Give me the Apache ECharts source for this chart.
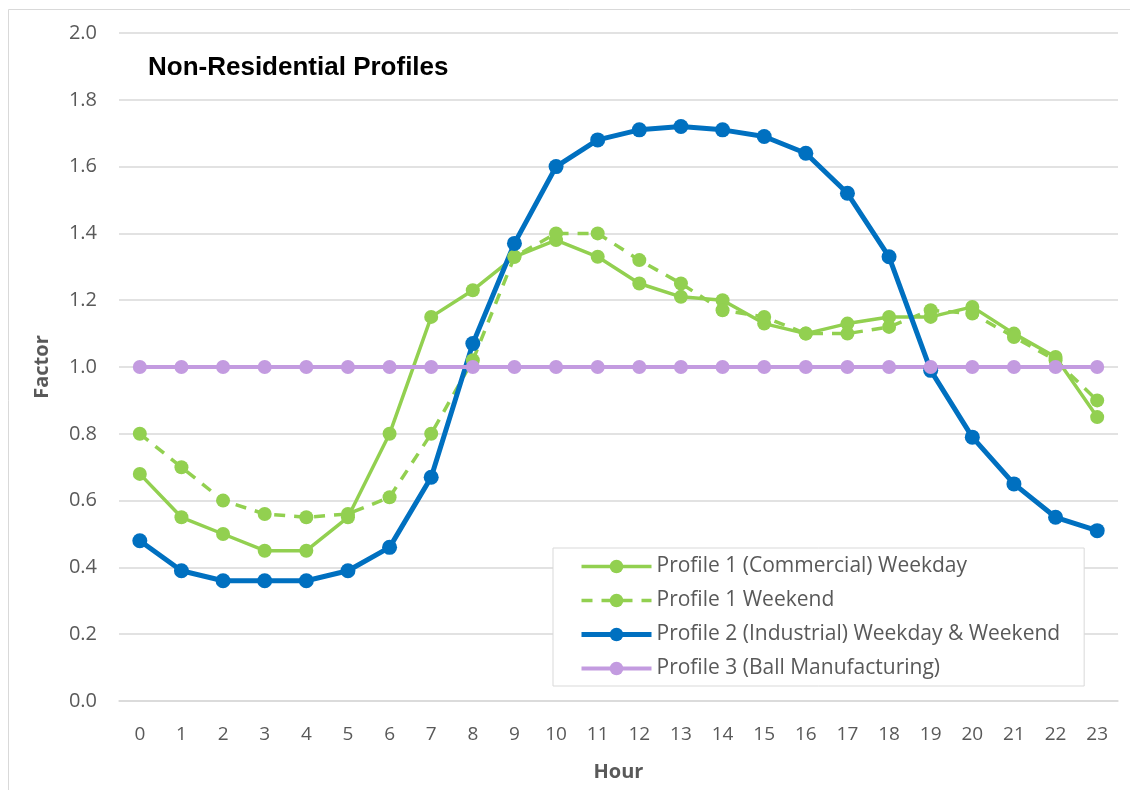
<!DOCTYPE html>
<html>
<head>
<meta charset="utf-8">
<script src="https://cdn.jsdelivr.net/npm/echarts@6/dist/echarts.min.js"></script>
<style>
  html, body { margin: 0; padding: 0; background: #fff; overflow: hidden; }
  #main { width: 1130px; height: 790px; }
</style>
</head>
<body>
<div id="main"></div>
<script>
// hours 0..23
const hours = ["0","1","2","3","4","5","6","7","8","9","10","11","12","13","14","15","16","17","18","19","20","21","22","23"];

const commercialWeekday = [0.68, 0.55, 0.50, 0.45, 0.45, 0.55, 0.80, 1.15, 1.23, 1.33, 1.38, 1.33,
                           1.25, 1.21, 1.20, 1.13, 1.10, 1.13, 1.15, 1.15, 1.18, 1.10, 1.03, 0.85];
const commercialWeekend = [0.80, 0.70, 0.60, 0.56, 0.55, 0.56, 0.61, 0.80, 1.02, 1.33, 1.40, 1.40,
                           1.32, 1.25, 1.17, 1.15, 1.10, 1.10, 1.12, 1.17, 1.16, 1.09, 1.02, 0.90];
const industrial = [0.48, 0.39, 0.36, 0.36, 0.36, 0.39, 0.46, 0.67, 1.07, 1.37, 1.60, 1.68,
                    1.71, 1.72, 1.71, 1.69, 1.64, 1.52, 1.33, 0.99, 0.79, 0.65, 0.55, 0.51];
const ballManufacturing = [1, 1, 1, 1, 1, 1, 1, 1, 1, 1, 1, 1, 1, 1, 1, 1, 1, 1, 1, 1, 1, 1, 1, 1];

const seriesNames = [
    "Profile 1 (Commercial) Weekday",
    "Profile 1 Weekend",
    "Profile 2 (Industrial) Weekday & Weekend",
    "Profile 3 (Ball Manufacturing)",
];

const green = "#92D050";
const blue = "#0070C0";
const purple = "#C39BE0";
const labelFont = "'Open Sans', 'Noto Sans', sans-serif";

var myChart = echarts.init(document.getElementById("main"));

function lineSeries(name, data, color, width, symbolSize, dashed) {
    return {
        name: name,
        type: "line",
        data: data,
        symbol: "circle",
        symbolSize: symbolSize,
        showSymbol: true,
        animation: false,
        itemStyle: { color: color },
        lineStyle: {
            color: color,
            width: width,
            type: dashed ? [11, 9] : "solid",
        },
    };
}

let option = {
    backgroundColor: "#fff",
    title: {
        text: "Non-Residential Profiles",
        left: 143,
        top: 50,
        textStyle: {
            fontFamily: "'Liberation Sans', Arial, sans-serif",
            fontWeight: "bold",
            fontSize: 26,
            color: "#000",
        },
    },
    graphic: [
        {
            type: "rect",
            shape: { x: 8.5, y: 9.5, width: 1140, height: 800 },
            style: { fill: "none", stroke: "#D9D9D9", lineWidth: 1 },
            silent: true,
        },
    ],
    legend: {
        orient: "vertical",
        left: 553,
        top: 548,
        padding: [8, 24, 7, 26],
        itemGap: 13,
        itemWidth: 70,
        itemHeight: 17,
        borderColor: "#D9D9D9",
        borderWidth: 1,
        backgroundColor: "#fff",
        data: [
            { name: seriesNames[0], lineStyle: { width: 3.5 } },
            { name: seriesNames[1], lineStyle: { width: 3.5, type: [11, 9] } },
            { name: seriesNames[2], lineStyle: { width: 5 } },
            { name: seriesNames[3], lineStyle: { width: 4 } },
        ],
        textStyle: {
            fontFamily: labelFont,
            fontSize: 21,
            lineHeight: 21,
            color: "#595959",
            padding: [0, 0, 0, 0],
        },
    },
    grid: {
        left: 119,
        right: 12,
        top: 33,
        bottom: 89,
        containLabel: false,
    },
    xAxis: {
        type: "category",
        data: hours,
        boundaryGap: true,
        name: "Hour",
        nameLocation: "middle",
        nameGap: 61,
        nameTextStyle: {
            fontFamily: labelFont,
            fontWeight: "bold",
            fontSize: 20,
            color: "#595959",
        },
        axisLine: { show: true, lineStyle: { color: "#D9D9D9", width: 1.5 } },
        axisTick: { show: false },
        axisLabel: {
            margin: 24,
            fontFamily: labelFont,
            fontSize: 19,
            color: "#595959",
            interval: 0,
        },
        splitLine: { show: false },
    },
    yAxis: {
        type: "value",
        min: 0,
        max: 2,
        interval: 0.2,
        name: "Factor",
        nameLocation: "middle",
        nameGap: 67,
        nameRotate: 90,
        nameTextStyle: {
            fontFamily: labelFont,
            fontWeight: "bold",
            fontSize: 20,
            color: "#595959",
        },
        axisLine: { show: false },
        axisTick: { show: false },
        axisLabel: {
            margin: 22,
            fontFamily: labelFont,
            fontSize: 20,
            color: "#595959",
            formatter: (v) => v.toFixed(1),
        },
        splitLine: { show: true, lineStyle: { color: "#D9D9D9", width: 1.5 } },
    },
    series: [
        lineSeries(seriesNames[0], commercialWeekday, green, 3.5, 14, false),
        lineSeries(seriesNames[1], commercialWeekend, green, 3.5, 14, true),
        lineSeries(seriesNames[2], industrial, blue, 5, 15, false),
        lineSeries(seriesNames[3], ballManufacturing, purple, 4, 14, false),
    ],
};

myChart.setOption(option);
</script>
</body>
</html>
